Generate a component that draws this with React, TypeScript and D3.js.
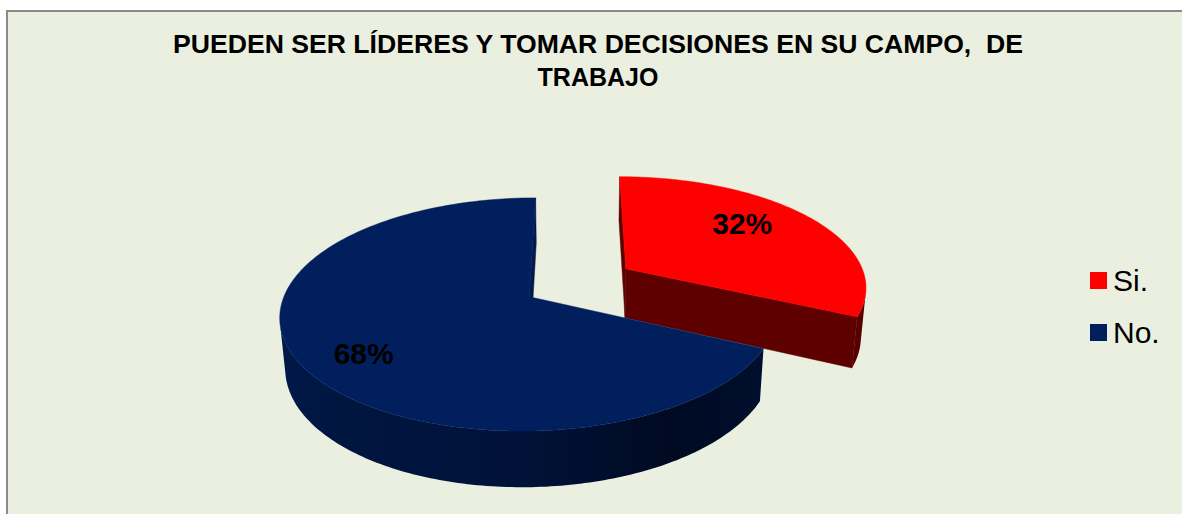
import * as d3 from "d3";
import React from "react";

// data
const categories = ["Si.", "No."];
const values = [32, 68];
const titleLines = ["PUEDEN SER LÍDERES Y TOMAR DECISIONES EN SU CAMPO,  DE", "TRABAJO"];

const topColors = ["#ff0000", "#001f5c"];
const wallColors = ["#5e0000", "#001a4c"];
const explode = [0.245, 0.23];

const width = 1182;
const height = 514;

// simple perspective camera looking down on the disk
const cx0 = 577;
const cy0 = 283;
const focal = 1440;
const dist = 5.976;
const tilt = (27.1 * Math.PI) / 180;
const thick = 0.235;
const labelR = 0.74;
const labelTurn = (-6 * Math.PI) / 180;

const cosT = Math.cos(tilt);
const sinT = Math.sin(tilt);
const camera = [0, dist * sinT, dist * cosT];

function project(x: number, yUp: number, z: number): [number, number] {
  const d = dist - z * cosT - yUp * sinT;
  return [cx0 + (focal * x) / d, cy0 + (focal * (z * sinT - yUp * cosT)) / d];
}

const facing = (p: number[], n: number[]) =>
  (camera[0] - p[0]) * n[0] + (camera[1] - p[1]) * n[1] + (camera[2] - p[2]) * n[2] > 0;

const toPath = (pts: [number, number][]) => "M" + pts.map((p) => p.join(",")).join("L") + "Z";

// side shading by angle (lit from the left)
const blueSide = d3
  .scaleLinear<string>()
  .domain([Math.PI * 0.64, Math.PI * 0.83, Math.PI, Math.PI * 1.5, Math.PI * 2])
  .range(["#00102e", "#000a22", "#001238", "#001a4c", "#001a4c"])
  .interpolate(d3.interpolateRgb);
const redSide = d3
  .scaleLinear<string>()
  .domain([0, Math.PI * 0.5, Math.PI * 0.64])
  .range(["#700000", "#640000", "#560000"]);
const sideScales = [redSide, blueSide];

export default function App() {
  const arcs = d3
    .pie<number>()
    .sort(null)
    .startAngle(0)
    .endAngle(2 * Math.PI)(values);

  const slices = arcs.map((a, i) => {
    const mid = (a.startAngle + a.endAngle) / 2;
    const ox = explode[i] * Math.sin(mid);
    const oz = -explode[i] * Math.cos(mid);
    const rim = (ang: number, y: number) => project(ox + Math.sin(ang), y, oz - Math.cos(ang));
    const apexTop = project(ox, 0, oz);
    const apexBot = project(ox, -thick, oz);

    const steps = Math.max(8, Math.ceil(((a.endAngle - a.startAngle) / (2 * Math.PI)) * 360));
    const angs = d3.range(steps + 1).map((k) => a.startAngle + ((a.endAngle - a.startAngle) * k) / steps);

    const top = toPath([apexTop, ...angs.map((g) => rim(g, 0))]);

    // radial walls
    const walls: { d: string; key: string }[] = [];
    [
      { ang: a.startAngle, nAng: a.startAngle - Math.PI / 2 },
      { ang: a.endAngle, nAng: a.endAngle + Math.PI / 2 },
    ].forEach(({ ang, nAng }, k) => {
      const midPt = [ox + Math.sin(ang) / 2, -thick / 2, oz - Math.cos(ang) / 2];
      const n = [Math.sin(nAng), 0, -Math.cos(nAng)];
      if (facing(midPt, n)) {
        walls.push({
          key: `w${k}`,
          d: toPath([apexTop, rim(ang, 0), rim(ang, -thick), apexBot]),
        });
      }
    });

    // outer curved side: visible angles only, one path with a gradient
    const vis = angs.filter((g) => facing([ox + Math.sin(g), -thick / 2, oz - Math.cos(g)], [Math.sin(g), 0, -Math.cos(g)]));
    let side: { d: string; stops: { off: number; color: string }[]; x1: number; x2: number } | null = null;
    if (vis.length > 1) {
      const topPts = vis.map((g) => rim(g, 0));
      const botPts = vis.map((g) => rim(g, -thick)).reverse();
      const xs = topPts.map((p) => p[0]);
      const x1 = d3.min(xs)!;
      const x2 = d3.max(xs)!;
      const stops = vis
        .map((g, k) => ({ off: (xs[k] - x1) / (x2 - x1 || 1), color: sideScales[i](g) }))
        .sort((p, q) => p.off - q.off)
        .filter((_, k, arr) => k % 6 === 0 || k === arr.length - 1);
      side = { d: toPath([...topPts, ...botPts]), stops, x1, x2 };
    }

    const la = mid + labelTurn;
    const label = project(ox + labelR * Math.sin(la), 0, oz - labelR * Math.cos(la));

    return { top, walls, side, label, pct: Math.round((a.value / d3.sum(values)) * 100) };
  });

  const legendY = d3.scalePoint<string>().domain(categories).range([280, 332]);

  return (
    <svg
      width={width}
      height={height}
      style={{ position: "absolute", left: 0, top: 0, display: "block" }}
      fontFamily="'Liberation Sans', Arial, sans-serif"
    >
      <defs>
        {slices.map((s, i) =>
          s.side ? (
            <linearGradient key={i} id={`side${i}`} gradientUnits="userSpaceOnUse" x1={s.side.x1} x2={s.side.x2} y1={0} y2={0}>
              {s.side.stops.map((st, k) => (
                <stop key={k} offset={st.off} stopColor={st.color} />
              ))}
            </linearGradient>
          ) : null
        )}
      </defs>

      <rect x={7} y={11} width={1300} height={700} fill="#ebefdf" stroke="#8a8a8a" strokeWidth={2} />

      {/* title */}
      <g fontSize={25} fontWeight="bold" textAnchor="middle" fill="#000">
        {titleLines.map((t, i) => (
          <text
            key={i}
            x={598}
            y={53 + i * 33}
            style={{ whiteSpace: "pre" }}
            textLength={i === 0 ? 850 : undefined}
            lengthAdjust="spacingAndGlyphs"
          >
            {t}
          </text>
        ))}
      </g>

      {/* slices: red (behind) first, then blue */}
      {slices.map((s, i) => (
        <g key={i}>
          {s.walls.map((w) => (
            <path key={w.key} d={w.d} fill={wallColors[i]} stroke={wallColors[i]} strokeWidth={0.5} />
          ))}
          {s.side && <path d={s.side.d} fill={`url(#side${i})`} />}
          <path d={s.top} fill={topColors[i]} stroke={topColors[i]} strokeWidth={0.5} />
        </g>
      ))}

      {/* data labels */}
      <g fontSize={30} fontWeight="bold" textAnchor="middle" fill="#000">
        {slices.map((s, i) => (
          <text key={i} x={s.label[0] - 9} y={s.label[1]} dy="0.36em">
            {s.pct}%
          </text>
        ))}
      </g>

      {/* legend */}
      <g>
        {categories.map((c, i) => (
          <g key={c} transform={`translate(1090,${legendY(c)})`}>
            <rect x={0} y={-8} width={17} height={17} fill={topColors[i]} />
            <text x={23} y={11} fontSize={30} fill="#000">
              {c}
            </text>
          </g>
        ))}
      </g>
    </svg>
  );
}
